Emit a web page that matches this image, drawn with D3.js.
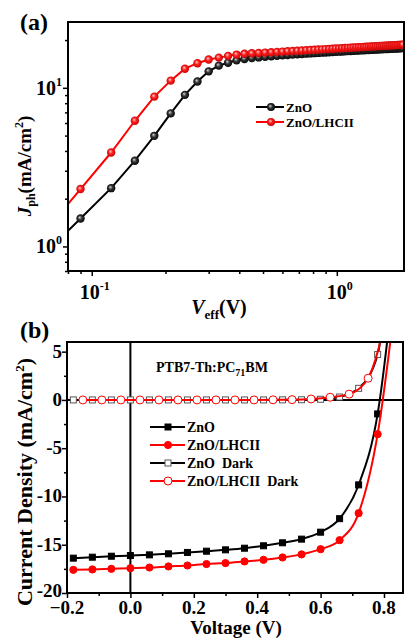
<!DOCTYPE html>
<html>
<head>
<meta charset="utf-8">
<script src="https://cdn.jsdelivr.net/npm/d3@7"></script>
<style>
body { margin: 0; background: #fff; }
svg { display: block; }
text { font-family: "Liberation Serif", "Times New Roman", serif; font-weight: bold; fill: #000; }
</style>
</head>
<body>
<div id="chart"></div>
<script>
/*globals d3 */

// Panel (a): photocurrent vs effective voltage
var veff = [0.06, 0.09, 0.12, 0.15, 0.18, 0.21, 0.24, 0.27, 0.30, 0.33, 0.36, 0.39, 0.42, 0.45,
    0.48, 0.51, 0.54, 0.57, 0.60, 0.63, 0.66, 0.69, 0.72, 0.75,
    0.78, 0.81, 0.84, 0.87, 0.90, 0.93, 0.96, 0.99, 1.02, 1.05,
    1.08, 1.11, 1.14, 1.17, 1.20, 1.23, 1.26, 1.29, 1.32, 1.35,
    1.38, 1.41, 1.44, 1.47, 1.50, 1.53, 1.56, 1.59, 1.62, 1.65,
    1.68, 1.71, 1.74, 1.77, 1.80, 1.83, 1.86];
var jphZnO = [0.81, 1.50, 2.33, 3.47, 4.98, 6.9, 9.03, 10.96, 12.7, 13.8, 14.4, 14.9, 15.2, 15.4,
    15.55, 15.7, 15.82, 15.93, 16.03, 16.12, 16.2, 16.28, 16.35, 16.42,
    16.48, 16.54, 16.6, 16.66, 16.71, 16.76, 16.81, 16.86, 16.9, 16.95,
    16.99, 17.03, 17.07, 17.11, 17.15, 17.18, 17.22, 17.25, 17.29, 17.32,
    17.35, 17.38, 17.41, 17.44, 17.47, 17.5, 17.53, 17.56, 17.58, 17.61,
    17.64, 17.66, 17.69, 17.71, 17.74, 17.76, 17.79];
var jphLHCII = [1.09, 2.30, 3.91, 6.2, 8.8, 11.1, 13.2, 14.3, 15.1, 15.5, 15.9, 16.2, 16.4, 16.5,
    16.59, 16.68, 16.77, 16.85, 16.92, 17.0, 17.07, 17.13, 17.2, 17.26,
    17.32, 17.38, 17.43, 17.48, 17.54, 17.59, 17.64, 17.69, 17.73, 17.78,
    17.82, 17.87, 17.91, 17.95, 17.99, 18.03, 18.06, 18.1, 18.14, 18.18,
    18.21, 18.24, 18.28, 18.31, 18.34, 18.37, 18.41, 18.44, 18.47, 18.5,
    18.53, 18.56, 18.58, 18.61, 18.64, 18.67, 18.7];
var legendA = ["ZnO", "ZnO/LHCII"];
var xMajorA = [0.1, 1];
var xMinorA = [0.08, 0.09, 0.2, 0.3, 0.4, 0.5, 0.6, 0.7, 0.8, 0.9];
var yMajorA = [1, 10];
var yMinorA = [0.7, 0.8, 0.9, 2, 3, 4, 5, 6, 7, 8, 9, 20];
var expA = {"0.1": "-1", "1": "0", "10": "1"};

// Panel (b): J-V curves, light and dark
var voltLight = [-0.18, -0.12, -0.06, 0, 0.06, 0.12, 0.18, 0.24, 0.30, 0.36, 0.42, 0.48, 0.54, 0.60, 0.66, 0.72, 0.78, 0.84];
var jZnO = [-16.39, -16.29, -16.19, -16.12, -16.05, -15.94, -15.8, -15.67, -15.53, -15.36, -15.11, -14.8, -14.42, -13.7, -12.3, -8.8, -1.45, 15];
var jLHCII = [-17.6, -17.56, -17.5, -17.43, -17.36, -17.25, -17.15, -17.0, -16.9, -16.73, -16.56, -16.32, -16.0, -15.46, -14.53, -11.73, -3.55, 11.5];
var voltDarkZnO = [-0.18, -0.12, -0.06, 0, 0.06, 0.12, 0.18, 0.24, 0.30, 0.36, 0.42, 0.48, 0.54, 0.60, 0.66, 0.72, 0.78, 0.84];
var jZnODark = [0, 0, 0, 0, 0, 0, 0, 0, 0, 0, 0, 0.01, 0.02, 0.07, 0.3, 1.2, 4.7, 30];
var voltDarkLHCII = [-0.15, -0.09, -0.03, 0.03, 0.09, 0.15, 0.21, 0.27, 0.33, 0.39, 0.45, 0.51, 0.57, 0.63, 0.69, 0.75, 0.81];
var jLHCIIDark = [0, 0, 0, 0, 0, 0, 0, 0, 0, 0, 0.01, 0.03, 0.1, 0.28, 0.6, 2.25, 9];
var legendB = ["ZnO", "ZnO/LHCII", "ZnO  Dark", "ZnO/LHCII  Dark"];
var xMajorB = [-0.2, 0, 0.2, 0.4, 0.6, 0.8];
var xMinorB = [-0.1, 0.1, 0.3, 0.5, 0.7];
var yMajorB = [-20, -15, -10, -5, 0, 5];
var yMinorB = [-17.5, -12.5, -7.5, -2.5, 2.5];

var svg = d3.select("#chart").append("svg")
    .attr("width", 408)
    .attr("height", 639);

var defs = svg.append("defs");

function sphereGradient(id, hi, mid, lo) {
    var g = defs.append("radialGradient")
        .attr("id", id)
        .attr("cx", "50%").attr("cy", "50%").attr("r", "55%")
        .attr("fx", "38%").attr("fy", "35%");
    g.append("stop").attr("offset", "0%").attr("stop-color", hi);
    g.append("stop").attr("offset", "45%").attr("stop-color", mid);
    g.append("stop").attr("offset", "100%").attr("stop-color", lo);
}
sphereGradient("ballBlack", "#d8d8d8", "#333", "#000");
sphereGradient("ballRed", "#ffd0d0", "#ff2020", "#c00000");

function clip(id, x, y, w, h) {
    defs.append("clipPath").attr("id", id)
        .append("rect").attr("x", x).attr("y", y).attr("width", w).attr("height", h);
}

function zip(xs, ys) {
    return xs.map(function (x, i) {
        return [x, ys[i]];
    });
}

function drawTicks(g, axis, major, minor, majorLen, minorLen) {
    g.call(axis.tickValues(major).tickSize(majorLen).tickFormat(""));
    g.select(".domain").remove();
    g.selectAll(".tick line").attr("stroke-width", 1.5);
    var gm = g.append("g");
    gm.call(axis.tickValues(minor).tickSize(minorLen).tickFormat(""));
    gm.select(".domain").remove();
    gm.selectAll(".tick line").attr("stroke-width", 1.5);
}

// ---------- panel (a) ----------
(function () {
    var left = 68, right = 404, top = 22, bottom = 271,
        x = d3.scaleLog().domain([0.08, 1.88]).range([left, right]),
        y = d3.scaleLog().domain([0.7, 26]).range([bottom, top]),
        g = svg.append("g"),
        line = d3.line().x(function (d) { return x(d[0]); }).y(function (d) { return y(d[1]); }),
        series = [
            {pts: zip(veff, jphZnO), color: "#000", ball: "url(#ballBlack)"},
            {pts: zip(veff, jphLHCII), color: "#ff0000", ball: "url(#ballRed)"}
        ],
        plot;

    clip("clipA", left, top, right - left, bottom - top);

    drawTicks(g.append("g").attr("transform", "translate(0," + bottom + ")"),
        d3.axisBottom(x), xMajorA, xMinorA, 5, 3);
    drawTicks(g.append("g").attr("transform", "translate(" + left + ",0)"),
        d3.axisLeft(y), yMajorA, yMinorA, 5, 3);

    xMajorA.forEach(function (v) {
        var t = g.append("text").attr("x", x(v) + 3).attr("y", bottom + 28)
            .attr("text-anchor", "middle").style("font-size", "20px");
        t.append("tspan").text("10");
        t.append("tspan").attr("dy", -9).style("font-size", "12px").text(expA[String(v)]);
    });
    yMajorA.forEach(function (v) {
        var t = g.append("text").attr("x", left - 6).attr("y", y(v) + 7)
            .attr("text-anchor", "end").style("font-size", "20px");
        t.append("tspan").text("10");
        t.append("tspan").attr("dy", -9).style("font-size", "12px").text(expA[String(v)]);
    });

    plot = g.append("g").attr("clip-path", "url(#clipA)");
    series.forEach(function (s) {
        plot.append("path").datum(s.pts)
            .attr("d", line)
            .attr("fill", "none")
            .attr("stroke", s.color)
            .attr("stroke-width", 2);
        plot.selectAll(null).data(s.pts).enter().append("circle")
            .attr("cx", function (d) { return x(d[0]); })
            .attr("cy", function (d) { return y(d[1]); })
            .attr("r", 4.2)
            .attr("fill", s.ball);
    });

    g.append("rect").attr("x", left).attr("y", top)
        .attr("width", right - left).attr("height", bottom - top)
        .attr("fill", "none").attr("stroke", "#000").attr("stroke-width", 2);

    // legend
    legendA.forEach(function (name, i) {
        var ly = 107 + i * 15;
        g.append("line").attr("x1", 256).attr("x2", 284).attr("y1", ly).attr("y2", ly)
            .attr("stroke", series[i].color).attr("stroke-width", 2);
        g.append("circle").attr("cx", 271).attr("cy", ly).attr("r", 4).attr("fill", series[i].ball);
        g.append("text").attr("x", 286).attr("y", ly + 4.5).style("font-size", "13px").text(name);
    });

    // titles
    g.append("text").attr("x", 20).attr("y", 30).style("font-size", "24px").text("(a)");
    (function () {
        var t = g.append("text").attr("text-anchor", "middle").style("font-size", "19px")
            .attr("transform", "translate(31," + 166 + ") rotate(-90)");
        t.append("tspan").style("font-style", "italic").text("J");
        t.append("tspan").attr("dy", 4).style("font-size", "12px").text("ph");
        t.append("tspan").attr("dy", -4).text("(mA/cm");
        t.append("tspan").attr("dy", -8).style("font-size", "12px").text("2");
        t.append("tspan").attr("dy", 8).text(")");
    }());
    (function () {
        var t = g.append("text").attr("x", 219).attr("y", 314).attr("text-anchor", "middle")
            .style("font-size", "20px");
        t.append("tspan").style("font-style", "italic").text("V");
        t.append("tspan").attr("dy", 5).style("font-size", "13px").text("eff");
        t.append("tspan").attr("dy", -5).text("(V)");
    }());
}());

// ---------- panel (b) ----------
(function () {
    var left = 67, right = 403, top = 342, bottom = 593,
        x = d3.scaleLinear().domain([-0.2, 0.86]).range([left, right]),
        y = d3.scaleLinear().domain([-20, 6]).range([bottom, top]),
        g = svg.append("g"),
        line = d3.line().curve(d3.curveMonotoneX)
            .x(function (d) { return x(d[0]); }).y(function (d) { return y(d[1]); }),
        series = [
            {pts: zip(voltLight, jZnO), color: "#000", mark: "sq", fill: "#000", stroke: "#000"},
            {pts: zip(voltLight, jLHCII), color: "#ff0000", mark: "ci", fill: "#ff0000", stroke: "#ff0000"},
            {pts: zip(voltDarkZnO, jZnODark), color: "#000", mark: "sq", fill: "#fff", stroke: "#555"},
            {pts: zip(voltDarkLHCII, jLHCIIDark), color: "#ff0000", mark: "ci", fill: "#fff", stroke: "#ff0000"}
        ],
        plot;

    clip("clipB", left, top, right - left, bottom - top);

    drawTicks(g.append("g").attr("transform", "translate(0," + bottom + ")"),
        d3.axisBottom(x), xMajorB, xMinorB, 5, 3);
    drawTicks(g.append("g").attr("transform", "translate(" + left + ",0)"),
        d3.axisLeft(y), yMajorB, yMinorB, 5, 3);

    xMajorB.forEach(function (v) {
        g.append("text").attr("x", x(v)).attr("y", bottom + 21)
            .attr("text-anchor", "middle").style("font-size", "19px")
            .text(d3.format(".1f")(v));
    });
    yMajorB.forEach(function (v) {
        g.append("text").attr("x", left - 5).attr("y", y(v) + (v === -20 ? 4 : 6))
            .attr("text-anchor", "end").style("font-size", "19px")
            .text(v);
    });

    plot = g.append("g").attr("clip-path", "url(#clipB)");

    // zero lines
    plot.append("line").attr("x1", x(0)).attr("x2", x(0)).attr("y1", top).attr("y2", bottom)
        .attr("stroke", "#000").attr("stroke-width", 2);
    plot.append("line").attr("x1", left).attr("x2", right).attr("y1", y(0)).attr("y2", y(0))
        .attr("stroke", "#000").attr("stroke-width", 2);

    function marker(sel, s, cx, cy) {
        if (s.mark === "sq") {
            sel.append("rect").attr("x", cx - 3).attr("y", cy - 3).attr("width", 6).attr("height", 6)
                .attr("fill", s.fill).attr("stroke", s.stroke).attr("stroke-width", 1);
        } else {
            sel.append("circle").attr("cx", cx).attr("cy", cy)
                .attr("r", s.fill === "#fff" ? 4 : 3.6)
                .attr("fill", s.fill).attr("stroke", s.stroke).attr("stroke-width", 1);
        }
    }

    series.forEach(function (s) {
        plot.append("path").datum(s.pts)
            .attr("d", line)
            .attr("fill", "none")
            .attr("stroke", s.color)
            .attr("stroke-width", 2);
        s.pts.forEach(function (d) {
            marker(plot, s, x(d[0]), y(d[1]));
        });
    });

    g.append("rect").attr("x", left).attr("y", top)
        .attr("width", right - left).attr("height", bottom - top)
        .attr("fill", "none").attr("stroke", "#000").attr("stroke-width", 2);

    // legend
    legendB.forEach(function (name, i) {
        var ly = 427 + i * 18;
        g.append("line").attr("x1", 150).attr("x2", 185).attr("y1", ly).attr("y2", ly)
            .attr("stroke", series[i].color).attr("stroke-width", 2);
        marker(g, series[i], 168, ly);
        g.append("text").attr("x", 187).attr("y", ly + 5).style("font-size", "14px")
            .style("white-space", "pre").text(name);
    });

    (function () {
        var t = g.append("text").attr("x", 156).attr("y", 372).style("font-size", "14px");
        t.append("tspan").text("PTB7-Th:PC");
        t.append("tspan").attr("dy", 4).style("font-size", "10px").text("71");
        t.append("tspan").attr("dy", -4).text("BM");
    }());

    g.append("text").attr("x", 20).attr("y", 338).style("font-size", "24px").text("(b)");
    (function () {
        var t = g.append("text").attr("text-anchor", "middle").style("font-size", "22px")
            .attr("transform", "translate(32," + 482 + ") rotate(-90)");
        t.append("tspan").text("Current Density (mA/cm");
        t.append("tspan").attr("dy", -8).style("font-size", "13px").text("2");
        t.append("tspan").attr("dy", 8).text(")");
    }());
    g.append("text").attr("x", 236).attr("y", 634).attr("text-anchor", "middle")
        .style("font-size", "19px").text("Voltage (V)");
}());
</script>
</body>
</html>
